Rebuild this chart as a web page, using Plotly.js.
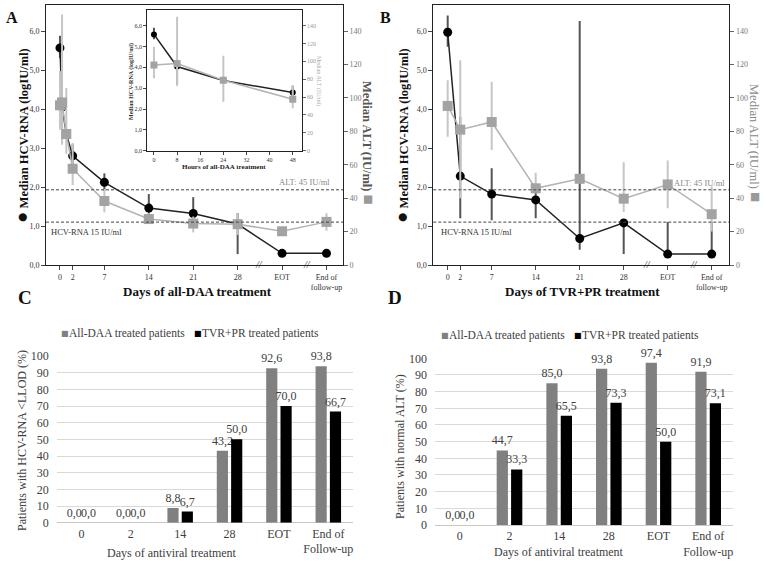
<!DOCTYPE html>
<html><head><meta charset="utf-8">
<script src="https://cdn.plot.ly/plotly-3.0.1.min.js"></script>
<style>html,body{margin:0;padding:0;background:#fff}#chart{width:766px;height:564px}</style>
</head><body><div id="chart"></div>
<script>
// ---------- Panel A (all-DAA) ----------
const daysA   = [0, 0.33, 1, 2, 7, 14, 21, 28, 35, 42];
const hcvA    = [5.57, 4.05, 3.37, 2.80, 2.12, 1.46, 1.32, 1.05, 0.30, 0.30];
const hcvAHi  = [5.88, 4.10, 3.40, 3.10, 2.35, 1.82, 1.74, 1.33, 0.30, 0.30];
const hcvALo  = [5.31, 3.20, 3.30, 2.50, 1.90, 1.20, 1.00, 0.28, 0.30, 0.30];
const altA    = [95.6, 97.3, 78.4, 57.6, 38.3, 27.5, 24.8, 24.4, 20.2, 25.8];
const altAHi  = [116.0, 150.0, 106.0, 73.0, 45.5, 31.0, 29.0, 31.0, 20.2, 31.0];
const altALo  = [81.0, 72.0, 66.5, 47.8, 31.5, 25.7, 19.5, 18.0, 20.2, 20.5];
// ---------- Inset (hours) ----------
const hoursIn  = [0, 8, 24, 48];
const hcvIn    = [5.58, 4.04, 3.37, 2.79];
const hcvInHi  = [5.90, 4.10, 3.40, 3.10];
const hcvInLo  = [5.35, 3.20, 3.30, 2.60];
const altIn    = [95.9, 97.5, 78.9, 57.6];
const altInHi  = [116.4, 150.0, 106.4, 73.5];
const altInLo  = [81.0, 72.3, 54.8, 47.4];
// ---------- Panel B (TVR+PR) ----------
const daysB   = [0, 2, 7, 14, 21, 28, 35, 42];
const hcvB    = [5.97, 2.28, 1.82, 1.67, 0.68, 1.08, 0.28, 0.28];
const hcvBHi  = [6.40, 3.80, 2.48, 2.00, 6.26, 1.08, 1.10, 1.10];
const hcvBLo  = [5.60, 1.20, 1.15, 1.20, 0.39, 0.28, 0.28, 0.28];
const altB    = [95.2, 81.0, 85.6, 45.9, 51.6, 39.7, 48.2, 30.4];
const altBHi  = [110.5, 122.6, 109.7, 55.2, 51.6, 61.5, 62.5, 47.0];
const altBLo  = [76.8, 40.0, 68.8, 44.0, 51.6, 31.7, 34.0, 20.0];
// tick labels for day axes
const dayTickVals = [0, 2, 7, 14, 21, 28, 35, 42];
const dayTickText = ['0', '2', '7', '14', '21', '28', 'EOT', 'End of<br>follow-up'];
// ---------- Panels C / D (bars) ----------
const barCats = ['0', '2', '14', '28', 'EOT', 'End of<br>Follow-up'];
const rnaDAA  = [0.0, 0.0, 8.8, 43.2, 92.6, 93.8];
const rnaTVR  = [0.0, 0.0, 6.7, 50.0, 70.0, 66.7];
const altDAA  = [0.0, 44.7, 85.0, 93.8, 97.4, 91.9];
const altTVR  = [0.0, 33.3, 65.5, 73.3, 50.0, 73.1];
const sigC = [{cat: 4, text: '**'}, {cat: 5, text: '**'}];
const sigD = [{cat: 2, text: '*'}, {cat: 3, text: '**'}, {cat: 4, text: '**'}, {cat: 5, text: '**'}];

const W = 766, H = 564;
const fx = p => p / W, fy = p => 1 - p / H;
const SERIF = 'Liberation Serif, Times New Roman, serif';
const BLK = '#000', BLKLINE = '#222', BLKERR = '#555';
const GRY = '#a3a3a3', GRYLINE = '#b3b3b3', GRYERR = '#c6c6c6';

const diff = (a, b) => a.map((v, i) => Math.max(0, v - b[i]));

function lineTraces(x, hcv, hi, lo, alt, ahi, alo, xa, ya, ya2, msz) {
  return [
    {x: x, y: hcv, xaxis: xa, yaxis: ya, type: 'scatter', mode: 'lines+markers',
     line: {color: BLKLINE, width: 1.5}, marker: {color: BLK, size: msz, symbol: 'circle'},
     error_y: {type: 'data', symmetric: false, array: diff(hi, hcv), arrayminus: diff(hcv, lo),
               color: BLKERR, thickness: 2, width: 0}, cliponaxis: false, showlegend: false},
    {x: x, y: alt, xaxis: xa, yaxis: ya2, type: 'scatter', mode: 'lines+markers',
     line: {color: GRYLINE, width: 1.5}, marker: {color: GRY, size: msz + 1, symbol: 'square'},
     error_y: {type: 'data', symmetric: false, array: diff(ahi, alt), arrayminus: diff(alt, alo),
               color: GRYERR, thickness: 2, width: 0}, cliponaxis: false, showlegend: false}
  ];
}

const data = [
  ...lineTraces(daysA, hcvA, hcvAHi, hcvALo, altA, altAHi, altALo, 'x', 'y', 'y2', 9),
  ...lineTraces(hoursIn, hcvIn, hcvInHi, hcvInLo, altIn, altInHi, altInLo, 'x2', 'y3', 'y4', 6),
  ...lineTraces(daysB, hcvB, hcvBHi, hcvBLo, altB, altBHi, altBLo, 'x3', 'y5', 'y6', 9),
];

function barTraces(y1, y2, xa, ya) {
  const common = {x: barCats, xaxis: xa, yaxis: ya, type: 'bar', texttemplate: '%{y:.1f}',
    textposition: 'outside', constraintext: 'none', cliponaxis: false, showlegend: false,
    outsidetextfont: {family: SERIF, size: 12, color: '#404040'}, hoverinfo: 'none'};
  return [
    Object.assign({}, common, {y: y1, marker: {color: '#808080'}}),
    Object.assign({}, common, {y: y2, marker: {color: '#000000'}})
  ];
}
data.push(...barTraces(rnaDAA, rnaTVR, 'x4', 'y7'));
data.push(...barTraces(altDAA, altTVR, 'x5', 'y8'));

const tickF = (s, c) => ({family: SERIF, size: s, color: c || '#333'});
function dayX(dom, range, anchor) {
  return {domain: dom, range: range, anchor: anchor, tickvals: dayTickVals, ticktext: dayTickText,
    showline: true, mirror: true, linecolor: '#222', linewidth: 1, ticks: 'outside', ticklen: 4,
    tickcolor: '#444', tickfont: tickF(8), showgrid: false, zeroline: false};
}
function logY(dom, anchor, top) {
  return {domain: dom, range: [0, top], anchor: anchor, dtick: 1, tickformat: '.1f',
    showline: true, linecolor: '#222', ticks: 'outside', ticklen: 4, tickcolor: '#444',
    tickfont: tickF(8), showgrid: false, zeroline: false};
}
function altY(over, anchor, top) {
  return {overlaying: over, side: 'right', anchor: anchor, range: [0, top], dtick: 20,
    showline: true, linecolor: '#222', ticks: 'outside', ticklen: 4, tickcolor: '#666',
    tickfont: tickF(8, '#777'), showgrid: false, zeroline: false};
}
function catX(dom, anchor) {
  return {domain: dom, anchor: anchor, type: 'category', showline: false, ticks: '',
    tickfont: tickF(12, '#404040'), showgrid: false, zeroline: false, ticklabelstandoff: 2};
}
function pctY(dom, anchor) {
  return {domain: dom, anchor: anchor, range: [0, 100], dtick: 10, showline: false,
    showgrid: true, gridcolor: '#d9d9d9', gridwidth: 1, zeroline: true, zerolinecolor: '#c8c8c8',
    ticks: '', tickfont: tickF(12, '#404040'), ticklabelstandoff: 7};
}

const dash = '3px,2px';
const domMainY = [fy(265), fy(5)];
const layout = {
  width: W, height: H, margin: {l: 0, r: 0, t: 0, b: 0},
  paper_bgcolor: '#fff', plot_bgcolor: 'rgba(0,0,0,0)', separators: ',.',
  font: {family: SERIF, color: '#222'},
  barmode: 'group', bargap: 0.42, bargroupgap: 0.22,
  xaxis: dayX([fx(46), fx(343)], [-2.2, 44.6], 'y'),
  yaxis: logY(domMainY, 'x', 6.67),
  yaxis2: altY('y', 'x', 155.6),
  xaxis2: Object.assign(dayX([fx(147.3), fx(301.7)], [-2.3, 51.1], 'y3'),
    {tickvals: null, ticktext: null, dtick: 8, tick0: 0, tickfont: tickF(6), ticklen: 3}),
  yaxis3: Object.assign(logY([fy(150.7), fy(10)], 'x2', 6.75), {tickfont: tickF(6), ticklen: 3}),
  yaxis4: Object.assign(altY('y3', 'x2', 157.5), {tickfont: tickF(6, '#999'), ticklen: 3}),
  xaxis3: dayX([fx(433.3), fx(729.3)], [-2.29, 44.8], 'y5'),
  yaxis5: logY(domMainY, 'x3', 6.67),
  yaxis6: altY('y5', 'x3', 155.6),
  xaxis4: catX([fx(56.7), fx(353)], 'y7'),
  yaxis7: pctY([fy(522.7), fy(356)], 'x4'),
  xaxis5: catX([fx(435), fx(733)], 'y8'),
  yaxis8: pctY([fy(525), fy(358.3)], 'x5'),
  shapes: [
    {type: 'line', xref: 'x domain', x0: 0, x1: 1, yref: 'y2', y0: 45, y1: 45, line: {color: '#444', width: 1, dash: dash}},
    {type: 'line', xref: 'x domain', x0: 0, x1: 1, yref: 'y', y0: 1.1, y1: 1.1, line: {color: '#444', width: 1, dash: dash}},
    {type: 'line', xref: 'x3 domain', x0: 0, x1: 1, yref: 'y6', y0: 45, y1: 45, line: {color: '#444', width: 1, dash: dash}},
    {type: 'line', xref: 'x3 domain', x0: 0, x1: 1, yref: 'y5', y0: 1.1, y1: 1.1, line: {color: '#444', width: 1, dash: dash}}
  ],
  annotations: []
};

const A = layout.annotations;
const ann = (o) => A.push(Object.assign({xref: 'paper', yref: 'paper', showarrow: false,
  xanchor: 'center', yanchor: 'middle', font: {family: SERIF, size: 13, color: '#222'}}, o));

// panel letters
ann({x: fx(12), y: fy(17), text: '<b>A</b>', font: {family: SERIF, size: 16, color: '#111'}});
ann({x: fx(385), y: fy(17), text: '<b>B</b>', font: {family: SERIF, size: 16, color: '#111'}});
ann({x: fx(25), y: fy(297), text: '<b>C</b>', font: {family: SERIF, size: 19, color: '#111'}});
ann({x: fx(395), y: fy(297), text: '<b>D</b>', font: {family: SERIF, size: 19, color: '#111'}});

// line-panel axis titles
const leftTitle = '<span style="font-size:19px">●</span> <b>Median HCV-RNA (logIU/ml)</b>';
ann({x: fx(21), y: fy(136), text: leftTitle, textangle: -90, font: {family: SERIF, size: 12.5, color: '#111'}});
ann({x: fx(401), y: fy(136), text: leftTitle, textangle: -90, font: {family: SERIF, size: 12.5, color: '#111'}});
ann({x: fx(368), y: fy(143), text: '<b>Median ALT (IU/ml)</b> <span style="color:#9a9a9a;font-size:17px">■</span>', textangle: 90, font: {family: SERIF, size: 12.5, color: '#555'}});
ann({x: fx(755), y: fy(143), text: 'Median ALT (IU/ml) <span style="color:#9a9a9a;font-size:17px">■</span>', textangle: 90, font: {family: SERIF, size: 12.5, color: '#888'}});
ann({x: fx(197), y: fy(291), text: '<b>Days of all-DAA treatment</b>', font: {family: SERIF, size: 13, color: '#111'}});
ann({x: fx(582), y: fy(291), text: '<b>Days of TVR+PR treatment</b>', font: {family: SERIF, size: 13, color: '#111'}});

// inset titles
ann({x: fx(132), y: fy(82), text: '<b>Median HCV-RNA (logIU/ml)</b>', textangle: -90, font: {family: SERIF, size: 6, color: '#333'}});
ann({x: fx(318), y: fy(81), text: 'Median ALT (IU/ml)', textangle: 90, font: {family: SERIF, size: 6, color: '#aaa'}});
ann({x: fx(224), y: fy(167), text: '<b>Hours of all-DAA treatment</b>', font: {family: SERIF, size: 7, color: '#222'}});

// reference-line labels
ann({x: fx(49), y: fy(232), xanchor: 'left', text: 'HCV-RNA 15 IU/ml', font: {family: SERIF, size: 8.5, color: '#333'}});
ann({x: fx(332), y: fy(182), xanchor: 'right', text: 'ALT: 45 IU/ml', font: {family: SERIF, size: 8.5, color: '#888'}});
ann({x: fx(439), y: fy(232), xanchor: 'left', text: 'HCV-RNA 15 IU/ml', font: {family: SERIF, size: 8.5, color: '#333'}});
ann({x: fx(727), y: fy(183), xanchor: 'right', text: 'ALT: 45 IU/ml', font: {family: SERIF, size: 8.5, color: '#888'}});

// axis break marks
[['x', 31.4], ['x', 39.0], ['x3', 31.7], ['x3', 39.2]].forEach(([xr, xv]) =>
  A.push({xref: xr, x: xv, yref: 'paper', y: fy(264), xanchor: 'center', yanchor: 'middle',
    text: '<i>//</i>', showarrow: false, font: {family: SERIF, size: 10, color: '#333'}}));

// bar legends (square marker + label as separate texts)
const legends = [
  {x: 59, y: 333, c: '#808080', t: 'All-DAA treated patients'},
  {x: 192, y: 333, c: '#000', t: 'TVR+PR treated patients'},
  {x: 439, y: 335, c: '#808080', t: 'All-DAA treated patients'},
  {x: 572, y: 335, c: '#000', t: 'TVR+PR treated patients'}
];
legends.forEach(l => {
  ann({x: fx(l.x), y: fy(l.y), xanchor: 'left', text: '■', font: {family: 'DejaVu Sans', size: 8, color: l.c}});
  ann({x: fx(l.x + 8), y: fy(l.y), xanchor: 'left', text: l.t, font: {family: SERIF, size: 11.5, color: '#404040'}});
});

// bar axis titles
ann({x: fx(22), y: fy(441), text: 'Patients with HCV-RNA &lt;LLOD (%)', textangle: -90, font: {family: SERIF, size: 12, color: '#404040'}});
ann({x: fx(400), y: fy(447), text: 'Patients with normal ALT (%)', textangle: -90, font: {family: SERIF, size: 12, color: '#404040'}});
ann({x: fx(172), y: fy(553), text: 'Days of antiviral treatment', font: {family: SERIF, size: 12, color: '#404040'}});
ann({x: fx(559), y: fy(552), text: 'Days of antiviral treatment', font: {family: SERIF, size: 12, color: '#404040'}});

// significance marks
sigC.forEach(s => A.push({xref: 'x4', yref: 'y7', x: s.cat, y: 106, xanchor: 'center', yanchor: 'middle',
  text: s.text, showarrow: false, font: {family: SERIF, size: 13, color: '#222'}}));
const sigDShift = [0, -3, 7, 0];
sigD.forEach((s, i) => A.push({xref: 'x5', yref: 'y8', x: s.cat, y: s.text === '*' ? 104 : 108, xshift: sigDShift[i],
  xanchor: 'center', yanchor: 'middle', text: s.text, showarrow: false, font: {family: SERIF, size: 13, color: '#222'}}));

Plotly.newPlot('chart', data, layout, {displayModeBar: false, staticPlot: true});
</script></body></html>
